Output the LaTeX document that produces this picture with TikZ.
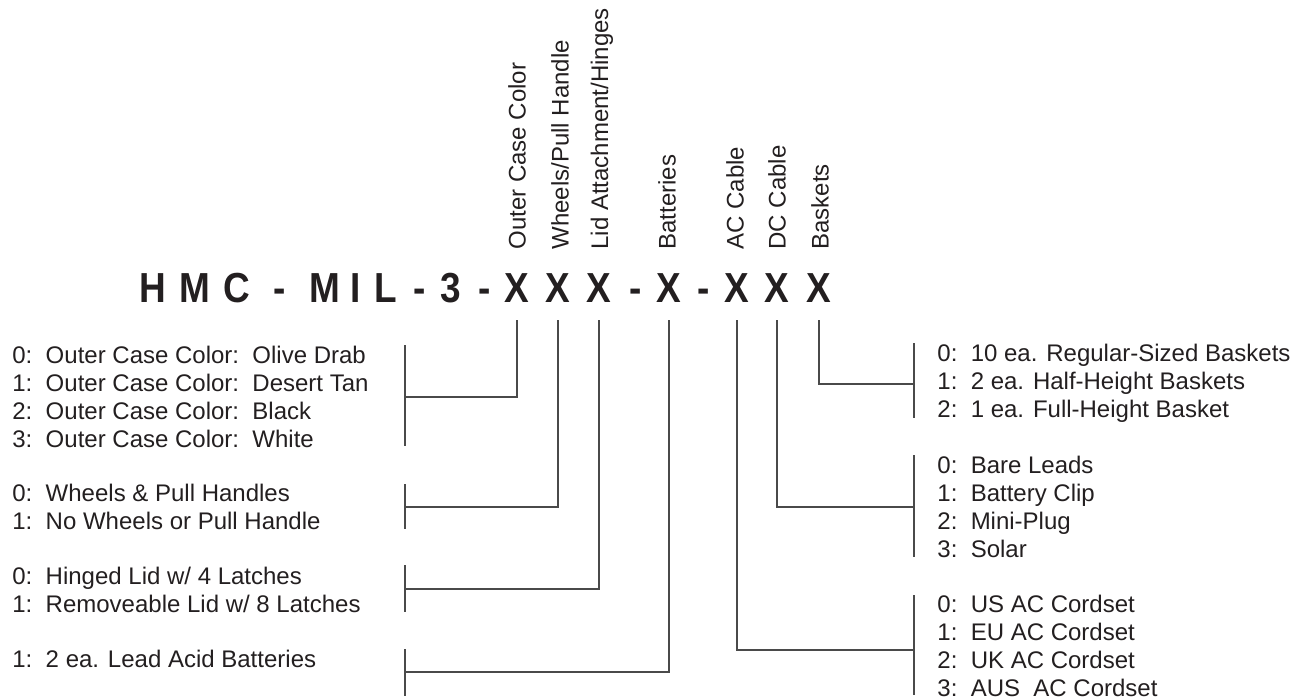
\documentclass[tikz,border=0pt]{standalone}
\usepackage{fontspec}
\setmainfont{Liberation Sans}
\newfontfamily\titlefont[FakeStretch=0.88]{Liberation Sans}
\definecolor{ink}{HTML}{231F20}
\definecolor{linegray}{HTML}{4A4A4A}

\begin{document}
\begin{tikzpicture}[x=0.5pt, y=-0.5pt,
  code/.style={font=\titlefont\bfseries\fontsize{21}{21}\selectfont, text=ink, inner sep=0pt, anchor=base},
  field/.style={font=\fontsize{12}{14}\selectfont, text=ink, rotate=90, anchor=west, inner sep=0pt},
  optlist/.style={font=\fontsize{12}{14}\selectfont, text=ink, align=left, anchor=west, inner sep=0pt},
  bar/.style={draw=linegray, line width=0.75pt}]
  \useasboundingbox (0,0) rectangle (1300,696);

  % part number
  \foreach \ch/\px [count=\i] in {H/153, M/195, C/237, -/280, M/325, I/356, L/386, -/420, 3/451, -/485}
    \node[code] (t\i) at (\px,302) {\ch};
  \foreach \px [count=\i] in {517, 558, 599, 669, 737, 777, 819}
    \node[code] (X\i) at (\px,302) {X};
  \node[code] (d1) at (636,302) {-};
  \node[code] (d2) at (704,302) {-};

  % field names
  \node[field] (fcolor) at (517,250) {Outer Case Color};
  \node[field] (fwheels) at (560,250) {Wheels/Pull Handle};
  \node[field] (flid) at (602,250) {Lid Attachment/Hinges};
  \node[field] (fbatt) at (667,250) {Batteries};
  \node[field] (fac) at (735,250) {AC Cable};
  \node[field] (fdc) at (777,250) {DC Cable};
  \node[field] (fbask) at (820,250) {Baskets};

  % option lists
  \node[optlist] (colors) at (12,397) {0:\ \ Outer Case Color:\ \ Olive Drab\\
    1:\ \ Outer Case Color:\ \ Desert Tan\\
    2:\ \ Outer Case Color:\ \ Black\\
    3:\ \ Outer Case Color:\ \ White};
  \node[optlist] (wheels) at (12,507) {0:\ \ Wheels \& Pull Handles\\
    1:\ \ No Wheels or Pull Handle};
  \node[optlist] (lids) at (12,590) {0:\ \ Hinged Lid w/ 4 Latches\\
    1:\ \ Removeable Lid w/ 8 Latches};
  \node[optlist] (batts) at (12,659) {1:\ \ 2 ea. Lead Acid Batteries};
  \node[optlist] (baskets) at (937,383) {0:\ \ 10 ea. Regular-Sized Baskets\\
    1:\ \ 2 ea. Half-Height Baskets\\
    2:\ \ 1 ea. Full-Height Basket};
  \node[optlist] (dccables) at (937,507) {0:\ \ Bare Leads\\
    1:\ \ Battery Clip\\
    2:\ \ Mini-Plug\\
    3:\ \ Solar};
  \node[optlist] (accables) at (937,646) {0:\ \ US AC Cordset\\
    1:\ \ EU AC Cordset\\
    2:\ \ UK AC Cordset\\
    3:\ \ AUS\ \ AC Cordset};

  % brackets
  \foreach \bx/\ya/\yb in {405/345/446, 405/484/529, 405/565/612, 405/649/696,
      914/343/418, 914/455/557, 914/595/695}
    \draw[bar] (\bx,\ya) -- (\bx,\yb);
  \coordinate (g1) at (405,397);
  \coordinate (g2) at (405,507);
  \coordinate (g3) at (405,589);
  \coordinate (g4) at (405,672);
  \coordinate (g5) at (914,650);
  \coordinate (g6) at (914,507);
  \coordinate (g7) at (914,384);

  \foreach \i in {1,...,7}
    \draw[bar] ([yshift=-9pt]X\i.south) |- (g\i);

\end{tikzpicture}
\end{document}
